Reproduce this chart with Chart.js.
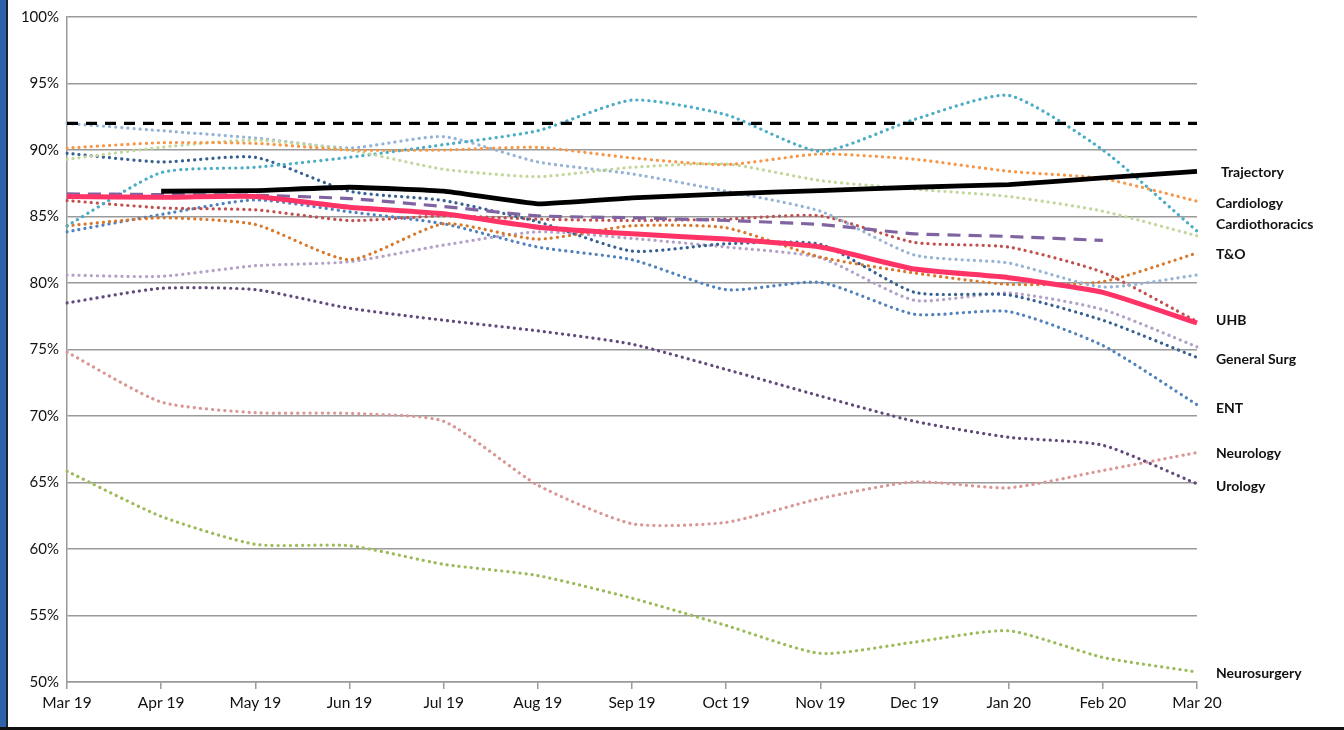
<!DOCTYPE html>
<html>
<head>
<meta charset="utf-8">
<script src="https://cdn.jsdelivr.net/npm/chart.js@4.4.1/dist/chart.umd.min.js"></script>
<style>
  html, body { margin: 0; padding: 0; background: #fff; }
  #wrap { position: relative; width: 1344px; height: 730px; overflow: hidden; }
  #edge { position: absolute; left: 0; top: 0; width: 6px; height: 728px; background: #2f62ab; border-right: 2px solid #1b2230; }
  #base { position: absolute; left: 0; top: 727px; width: 1344px; height: 3px; background: #111; }
  canvas { position: absolute; left: 0; top: 0; }
</style>
</head>
<body>
<div id="wrap">
  <canvas id="chart" width="1344" height="730"></canvas>
  <div id="edge"></div>
  <div id="base"></div>
</div>
<script>
  // months along the bottom
  var months = ['Mar 19', 'Apr 19', 'May 19', 'Jun 19', 'Jul 19', 'Aug 19', 'Sep 19',
                'Oct 19', 'Nov 19', 'Dec 19', 'Jan 20', 'Feb 20', 'Mar 20'];

  // series values (%)
  var target          = [92, 92, 92, 92, 92, 92, 92, 92, 92, 92, 92, 92, 92];
  var trajectory      = [null, 86.9, 86.95, 87.2, 86.9, 85.95, 86.4, 86.7, 86.95, 87.2, 87.4, 87.9, 88.4];
  var uhb             = [86.5, 86.45, 86.5, 85.7, 85.2, 84.2, 83.7, 83.3, 82.7, 81.05, 80.4, 79.3, 77.0];
  var uhbPrev         = [86.7, 86.65, 86.6, 86.35, 85.75, 85.05, 84.9, 84.7, 84.4, 83.7, 83.5, 83.2, null];
  var cardiology      = [90.15, 90.55, 90.5, 90.0, 90.0, 90.2, 89.4, 88.9, 89.7, 89.3, 88.4, 87.85, 86.15];
  var cardiothoracics = [89.3, 90.2, 90.75, 90.0, 88.55, 88.0, 88.7, 88.95, 87.7, 87.05, 86.5, 85.4, 83.55];
  var teal            = [84.3, 88.3, 88.7, 89.45, 90.4, 91.45, 93.75, 92.65, 89.9, 92.3, 94.1, 90.0, 83.9];
  var steel           = [92.0, 91.45, 90.9, 90.15, 91.0, 89.1, 88.2, 86.9, 85.4, 82.1, 81.5, 79.7, 80.6];
  var generalSurg     = [89.75, 89.1, 89.45, 86.9, 86.2, 84.6, 82.4, 82.95, 82.9, 79.3, 79.1, 77.2, 74.4];
  var red             = [86.2, 85.65, 85.5, 84.7, 85.05, 84.8, 84.7, 84.8, 85.05, 83.05, 82.7, 80.8, 77.1];
  var tAndO           = [84.3, 84.9, 84.4, 81.75, 84.45, 83.3, 84.3, 84.15, 81.95, 80.75, 79.9, 80.1, 82.25];
  var ent             = [83.85, 85.15, 86.25, 85.35, 84.45, 82.7, 81.75, 79.5, 80.05, 77.65, 77.85, 75.3, 70.85];
  var lavender        = [80.6, 80.5, 81.3, 81.6, 82.85, 83.85, 83.35, 82.7, 81.9, 78.7, 79.25, 78.0, 75.2];
  var urology         = [78.5, 79.6, 79.5, 78.1, 77.2, 76.4, 75.4, 73.5, 71.5, 69.6, 68.4, 67.8, 64.9];
  var neurology       = [74.8, 71.05, 70.25, 70.2, 69.6, 64.8, 61.9, 62.0, 63.8, 65.05, 64.6, 65.9, 67.25];
  var neurosurgery    = [65.85, 62.45, 60.35, 60.25, 58.85, 58.0, 56.3, 54.25, 52.15, 53.0, 53.85, 51.85, 50.75];

  var yTicks = [50, 55, 60, 65, 70, 75, 80, 85, 90, 95, 100];

  var DOT = [0.1, 6];

  function dotted(label, data, color, endLabel, dy) {
    return {
      label: label, data: data, borderColor: color, borderWidth: 3.2,
      borderDash: DOT, borderCapStyle: 'round', tension: 0.2,
      pointRadius: 0, fill: false, endLabel: endLabel, labelDy: dy || 0
    };
  }

  var datasets = [
    { label: 'Trajectory', data: trajectory, borderColor: '#000', borderWidth: 4.8, tension: 0.1,
      pointRadius: 0, endLabel: 'Trajectory', labelDx: 5, labelDy: 1 },
    { label: 'UHB', data: uhb, borderColor: '#ff3366', borderWidth: 5, tension: 0.15,
      pointRadius: 0, endLabel: 'UHB', labelDy: -2 },
    { label: 'Target', data: target, borderColor: '#000', borderWidth: 3.4, borderDash: [11, 8],
      tension: 0, pointRadius: 0 },
    { label: 'UHB last year', data: uhbPrev, borderColor: '#8064a2', borderWidth: 3.2, borderDash: [13, 8],
      tension: 0.15, pointRadius: 0 },
    dotted('Cardiology', cardiology, '#f79646', 'Cardiology', 2),
    dotted('Cardiothoracics', cardiothoracics, '#c3d69b', 'Cardiothoracics', -11),
    dotted('Teal', teal, '#4bacc6'),
    dotted('Steel', steel, '#95b3d7'),
    dotted('General Surg', generalSurg, '#366092', 'General Surg', 2),
    dotted('Red', red, '#c0504d'),
    dotted('T&O', tAndO, '#d9782a', 'T&O', 1),
    dotted('ENT', ent, '#4f81bd', 'ENT', 4),
    dotted('Lavender', lavender, '#b3a2c7'),
    dotted('Urology', urology, '#604a7b', 'Urology', 3),
    dotted('Neurology', neurology, '#d99694', 'Neurology', 1),
    dotted('Neurosurgery', neurosurgery, '#9bbb59', 'Neurosurgery', 1)
  ];

  var endLabels = {
    id: 'endLabels',
    afterDatasetsDraw: function (chart) {
      var ctx = chart.ctx, y = chart.scales.y, area = chart.chartArea;
      ctx.save();
      ctx.font = 'bold 14px Lato, "Open Sans", sans-serif';
      ctx.fillStyle = '#111';
      ctx.textBaseline = 'middle';
      chart.data.datasets.forEach(function (ds) {
        if (!ds.endLabel) return;
        var last = ds.data[ds.data.length - 1];
        var py = y.getPixelForValue(last) + (ds.labelDy || 0);
        ctx.fillText(ds.endLabel, area.right + 19 + (ds.labelDx || 0), py);
      });
      ctx.restore();
    }
  };

  var xFont = { family: 'Lato, "Open Sans", sans-serif', size: 15.5 };
  var yFont = { family: 'Lato, "Open Sans", sans-serif', size: 15 };

  new Chart(document.getElementById('chart'), {
    type: 'line',
    data: { labels: months, datasets: datasets },
    plugins: [endLabels],
    options: {
      responsive: false,
      animation: false,
      layout: { padding: { left: 0, right: 147, top: 16, bottom: 0 } },
      plugins: { legend: { display: false }, tooltip: { enabled: false } },
      scales: {
        x: {
          offset: false,
          grid: { drawOnChartArea: false, drawTicks: true, tickLength: 7, color: '#9a9a9a', lineWidth: 1.5 },
          border: { color: '#9a9a9a', width: 1.5 },
          ticks: { font: xFont, color: '#111', padding: 5, maxRotation: 0, autoSkip: false },
          afterFit: function (s) { s.height = 48; }
        },
        y: {
          min: 50, max: 100,
          afterBuildTicks: function (s) { s.ticks = yTicks.map(function (v) { return { value: v }; }); },
          grid: { color: '#9a9a9a', lineWidth: 1.5, drawTicks: false },
          border: { color: '#9a9a9a', width: 1.5 },
          ticks: { font: yFont, color: '#111', padding: 8, callback: function (v) { return v + '%'; } },
          afterFit: function (s) { s.width = 67; }
        }
      }
    }
  });
</script>
</body>
</html>
